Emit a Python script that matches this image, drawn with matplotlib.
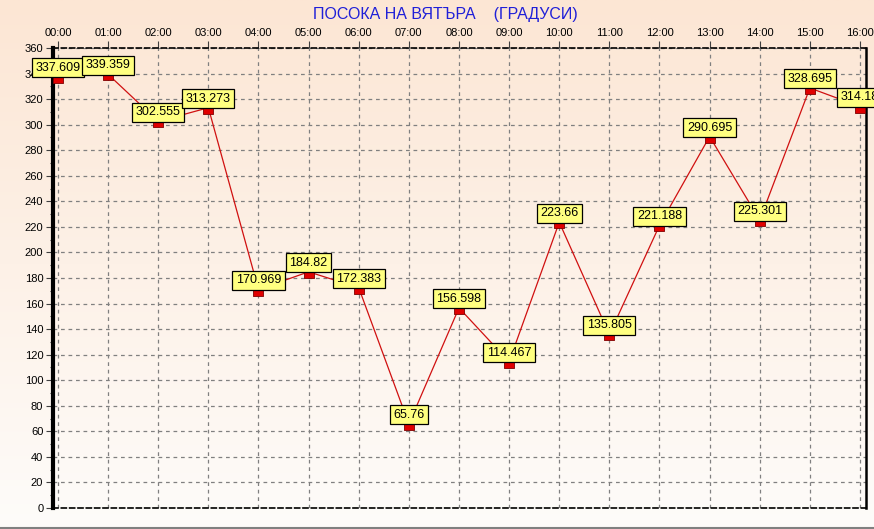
import numpy as np
import matplotlib
matplotlib.use("Agg")
import matplotlib.pyplot as plt
from matplotlib.ticker import MultipleLocator

plt.rcParams['font.family'] = ['Liberation Sans', 'DejaVu Sans']

hours = list(range(17))
tick_labels = [f"{h:02d}:00" for h in hours]
values = [337.609, 339.359, 302.555, 313.273, 170.969, 184.82, 172.383, 65.76,
          156.598, 114.467, 223.66, 135.805, 221.188, 290.695, 225.301, 328.695, 314.18]
value_labels = ["337.609", "339.359", "302.555", "313.273", "170.969", "184.82", "172.383", "65.76",
                "156.598", "114.467", "223.66", "135.805", "221.188", "290.695", "225.301", "328.695", "314.18"]

W, H = 874, 529
fig = plt.figure(figsize=(W / 100, H / 100), dpi=100)

# background gradient
bg = fig.add_axes([0, 0, 1, 1], zorder=-10)
top = np.array([252, 230, 212]) / 255
bot = np.array([254, 252, 250]) / 255
t = np.linspace(0, 1, 256)[:, None]
grad = top[None, :] * (1 - t) + bot[None, :] * t
grad = np.repeat(grad[:, None, :], 2, axis=1)
bg.imshow(grad, aspect='auto', extent=[0, 1, 0, 1], origin='upper')
bg.set_xlim(0, 1); bg.set_ylim(0, 1)
bg.axis('off')
bg.plot([0, 1], [1.5 / H, 1.5 / H], color='#808080', lw=1.5)

L, R, T, B = 53, 866, 48, 508
ax = fig.add_axes([L / W, (H - B) / H, (R - L) / W, (B - T) / H])
ax.set_facecolor('none')

px_per_h = (860 - 58) / 16
ax.set_xlim(-(58 - L) / px_per_h, (R - 58) / px_per_h)
ax.set_ylim(0, 360)

ax.set_xticks(hours)
ax.set_xticklabels(tick_labels)
ax.xaxis.tick_top()
ax.set_yticks(range(0, 361, 20))
ax.yaxis.set_minor_locator(MultipleLocator(10))
ax.tick_params(axis='both', labelsize=8, length=5, width=0.8, color='#404040', pad=2)
ax.tick_params(axis='y', which='minor', length=2.5, width=0.8, color='#404040')

ax.grid(True, which='major', color='#808080', linestyle=(0, (3, 3)), linewidth=0.9)

for s in ['top', 'bottom']:
    ax.spines[s].set_linestyle((0, (3, 2)))
    ax.spines[s].set_linewidth(1.2)
    ax.spines[s].set_color('black')
ax.spines['left'].set_linewidth(3)
ax.spines['right'].set_linewidth(1.8)

rect = [(-1, 0), (1, 0), (1, -1.2), (-1, -1.2), (-1, 0)]
ax.plot(hours, values, color='#d01010', lw=0.9, zorder=3, clip_on=False)
ax.plot(hours, values, linestyle='none', marker=rect, markersize=9,
        markerfacecolor='#e00000', markeredgecolor='#800000', markeredgewidth=0.6,
        zorder=4, clip_on=False)

for h, v, lab in zip(hours, values, value_labels):
    ax.annotate(lab, (h, v), xytext=(0, 2.2), textcoords='offset points',
                ha='center', va='bottom', fontsize=9, color='black', zorder=5,
                annotation_clip=False,
                bbox=dict(boxstyle='square,pad=0.28', fc='#ffff80', ec='black', lw=0.9))

fig.text(445 / W, 1 - 15 / H, "ПОСОКА НА ВЯТЪРА    (ГРАДУСИ)", ha='center', va='center',
         fontsize=11.5, color='#2020d8')

fig.savefig('out.png', dpi=100)
